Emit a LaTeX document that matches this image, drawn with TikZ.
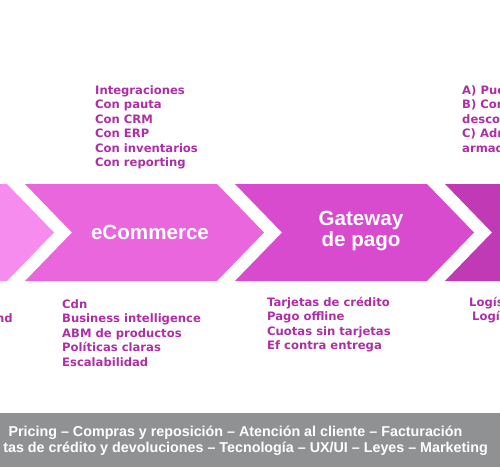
\documentclass[tikz,border=0pt]{standalone}
\usepackage{fontspec}
\setmainfont{Liberation Sans}
\newfontfamily\listfont{DejaVu Sans}
\usepackage{xcolor}
\usetikzlibrary{positioning}

\definecolor{chevA}{RGB}{246,140,238}
\definecolor{chevB}{RGB}{234,102,220}
\definecolor{chevC}{RGB}{216,74,206}
\definecolor{chevD}{RGB}{192,58,182}
\definecolor{listpurple}{RGB}{174,46,166}
\definecolor{footgray}{RGB}{143,145,147}

\begin{document}
\begin{tikzpicture}[x=1pt,y=-1pt,
  item/.style={inner sep=0pt,anchor=base west,text=listpurple,
    font=\listfont\bfseries\fontsize{11.6}{13}\selectfont},
  chevlabel/.style={inner sep=0pt,text=white,align=center,
    font=\bfseries\fontsize{20.6}{20.5}\selectfont},
  footline/.style={inner sep=0pt,text=white,
    font=\bfseries\fontsize{14.3}{15}\selectfont}]
  \useasboundingbox (0,0) rectangle (500,472);
  \clip (0,0) rectangle (500,472);

  % chevrons
  \foreach \l/\c in {-185/chevA,25/chevB,235/chevC,445/chevD}
    \fill[\c] (\l,184) -- ++(192,0) -- ++(47,48.5) -- ++(-47,48.5)
      -- ++(-192,0) -- ++(47,-48.5) -- cycle;

  % chevron labels
  \node[chevlabel] (ecom) at (150,232) {eCommerce};
  \node[chevlabel] (gateway) at (361,231) {Gateway\\de pago};

  % lists above
  \foreach \t [count=\i] in {Integraciones,Con pauta,Con CRM,Con ERP,Con inventarios,Con reporting}
    \node[item] (integ-\i) at (95,{94.3+14.5*(\i-1)}) {\t};
  \foreach \t [count=\i] in {A) Pue,B) Con,desco,C) Adr,armad}
    \node[item] (pasos-\i) at (462,{94.3+14.5*(\i-1)}) {\t};

  % lists below
  \node[item,anchor=base east] (brand) at (13,322.5) {nd};
  \foreach \t [count=\i] in {Cdn,Business intelligence,ABM de productos,Políticas claras,Escalabilidad}
    \node[item] (infra-\i) at (62,{308.2+14.5*(\i-1)}) {\t};
  \foreach \t [count=\i] in {Tarjetas de crédito,Pago offline,Cuotas sin tarjetas,Ef contra entrega}
    \node[item] (pagos-\i) at (267,{306+14.5*(\i-1)}) {\t};
  \node[item] (logis-1) at (469,306) {Logís};
  \node[item] (logis-2) at (472,320.5) {Logí};

  % footer
  \fill[footgray] (0,413) rectangle (500,467);
  \node[footline,anchor=base] (foot-1) at (235.5,436)
    {Pricing – Compras y reposición – Atención al cliente – Facturación};
  \node[footline,anchor=base east] (foot-2) at (488,452.7)
    {tas de crédito y devoluciones – Tecnología – UX/UI – Leyes – Marketing};
\end{tikzpicture}
\end{document}
